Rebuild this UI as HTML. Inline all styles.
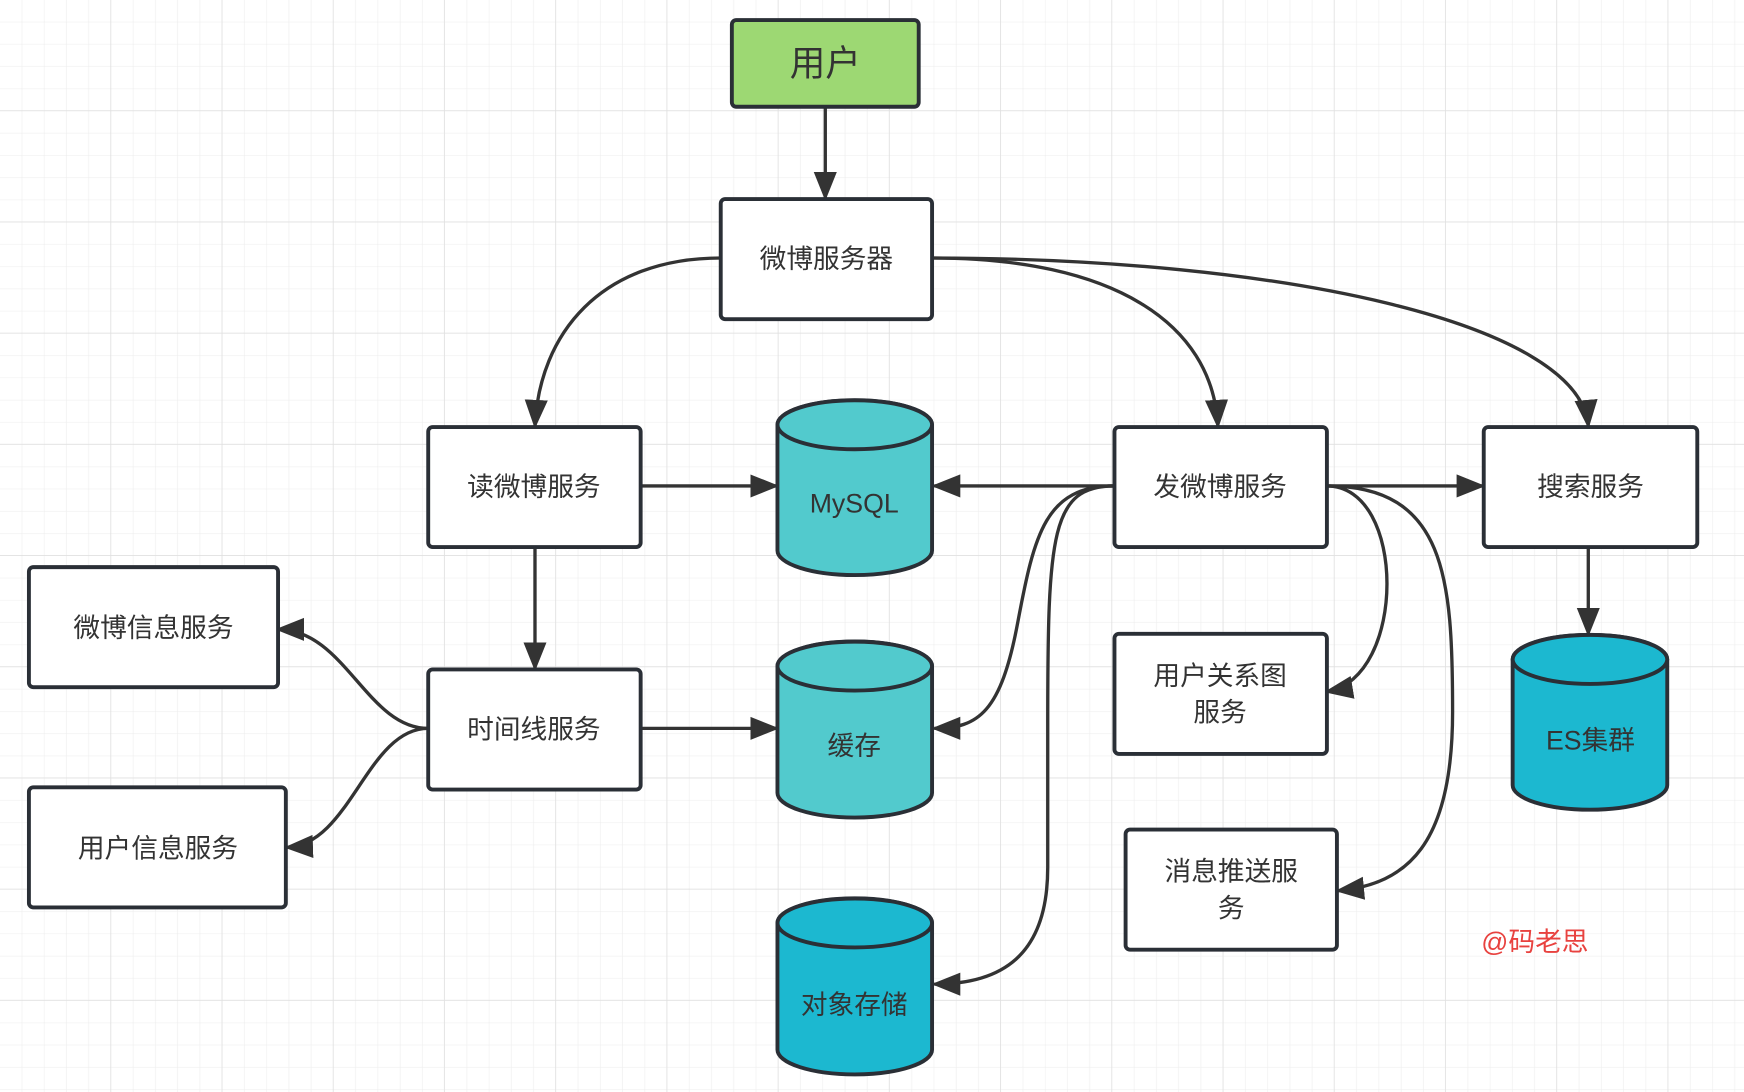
<!DOCTYPE html>
<html><head><meta charset="utf-8"><style>
html,body{margin:0;padding:0;background:#fff;}
svg{display:block;}
text{font-family:"Liberation Sans","Noto Sans CJK SC",sans-serif;fill:#333;}
</style></head><body>
<svg width="1744" height="1092" viewBox="0 0 1568 982" preserveAspectRatio="none" xmlns="http://www.w3.org/2000/svg">
<defs>
<pattern id="g" width="20" height="20" patternUnits="userSpaceOnUse"><path d="M20 0V20H0" fill="none" stroke="#ececec" stroke-width="1"/></pattern>
<pattern id="G" width="100" height="100" patternUnits="userSpaceOnUse"><rect width="100" height="100" fill="url(#g)"/><path d="M100 0V100H0" fill="none" stroke="#e0e0e0" stroke-width="1.5"/></pattern>
<marker id="a" markerWidth="10" markerHeight="10" refX="9" refY="5" orient="auto" markerUnits="userSpaceOnUse" viewBox="0 0 10 10"><path d="M0,0L10,5L0,10z" fill="#333"/></marker>
<marker id="A" viewBox="0 0 10 10" refX="9" refY="5" markerWidth="26" markerHeight="26" orient="auto" markerUnits="userSpaceOnUse"><path d="M0,1L10,5L0,9z" fill="#333"/></marker>
</defs>
<rect width="1568" height="982" fill="url(#G)"/>
<g fill="none" stroke="#333" stroke-width="3" marker-end="url(#A)">
<path d="M742,96L742,178"/>
<path d="M648,232C540,232 485,300 481,383"/>
<path d="M838,232C1000,232 1090,290 1095,383"/>
<path d="M838,232C1150,232 1420,290 1428,383"/>
<path d="M576,437L698,437"/>
<path d="M1002,437L840,437"/>
<path d="M1002,437C940,437 930,480 915,560C900,640 880,655 840,655"/>
<path d="M1002,437C945,437 942,480 942,650L942,780C942,860 900,885 840,885"/>
<path d="M1193,437L1333,437"/>
<path d="M1193,437C1265,437 1265,610 1193,622"/>
<path d="M1193,437C1300,437 1306,520 1306,640C1306,760 1265,795 1203,801"/>
<path d="M481,492L481,601"/>
<path d="M576,655L698,655"/>
<path d="M385,655C330,655 310,566 250,566"/>
<path d="M385,655C330,655 315,760 258,762"/>
<path d="M1428,492L1428,570"/>
</g>
<g stroke="#2a2f36" stroke-width="3.5">
<rect x="658" y="18" width="168" height="78" rx="4" fill="#9dd873"/>
<rect x="648" y="179" width="190" height="108" rx="4" fill="#fff"/>
<rect x="385" y="384" width="191" height="108" rx="4" fill="#fff"/>
<rect x="1002" y="384" width="191" height="108" rx="4" fill="#fff"/>
<rect x="1334" y="384" width="192" height="108" rx="4" fill="#fff"/>
<rect x="26" y="510" width="224" height="108" rx="4" fill="#fff"/>
<rect x="385" y="602" width="191" height="108" rx="4" fill="#fff"/>
<rect x="1002" y="570" width="191" height="108" rx="4" fill="#fff"/>
<rect x="26" y="708" width="231" height="108" rx="4" fill="#fff"/>
<rect x="1012" y="746" width="190" height="108" rx="4" fill="#fff"/>
<path d="M699,382L699,495A69,22 0 0 0 838,495L838,382A69,22 0 0 0 699,382Z" fill="#52cacd"/>
<ellipse cx="768.5" cy="382" rx="69.5" ry="22" fill="#52cacd"/>
<path d="M699,599L699,713A69,22 0 0 0 838,713L838,599A69,22 0 0 0 699,599Z" fill="#52cacd"/>
<ellipse cx="768.5" cy="599" rx="69.5" ry="22" fill="#52cacd"/>
<path d="M699,830L699,944A69,22 0 0 0 838,944L838,830A69,22 0 0 0 699,830Z" fill="#1cb8d0"/>
<ellipse cx="768.5" cy="830" rx="69.5" ry="22" fill="#1cb8d0"/>
<path d="M1360,593L1360,706A69,22 0 0 0 1499,706L1499,593A69,22 0 0 0 1360,593Z" fill="#1cb8d0"/>
<ellipse cx="1429.5" cy="593" rx="69.5" ry="22" fill="#1cb8d0"/>
</g>
<g font-size="24" text-anchor="middle">
<text x="742" y="68" font-size="32">用户</text>
<text x="743" y="241">微博服务器</text>
<text x="480" y="446">读微博服务</text>
<text x="1097" y="446">发微博服务</text>
<text x="1430" y="446">搜索服务</text>
<text x="768" y="461">MySQL</text>
<text x="138" y="573">微博信息服务</text>
<text x="480" y="664">时间线服务</text>
<text x="768" y="679">缓存</text>
<text x="1097" y="616">用户关系图</text>
<text x="1097" y="649">服务</text>
<text x="1430" y="674">ES集群</text>
<text x="142" y="771">用户信息服务</text>
<text x="1107" y="792">消息推送服</text>
<text x="1107" y="825">务</text>
<text x="768" y="912">对象存储</text>
<text x="1380" y="855" style="fill:#e8423f">@码老思</text>
</g>
</svg>
</body></html>
